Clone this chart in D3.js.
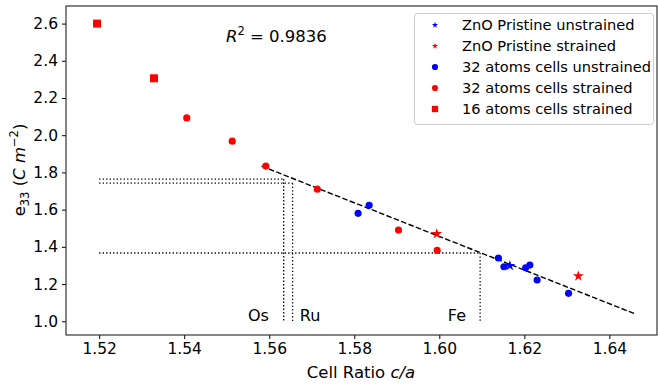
<!DOCTYPE html>
<html>
<head>
<meta charset="utf-8">
<script src="https://cdnjs.cloudflare.com/ajax/libs/d3/7.8.5/d3.min.js"></script>
<style>
  body { margin: 0; background: #fff; }
  text { font-family: "DejaVu Sans", sans-serif; fill: #000; }
</style>
</head>
<body>
<div id="chart"></div>
<script>
// data
const pristineUnstrained = [{x: 1.6166, y: 1.299}];
const pristineStrained = [{x: 1.5994, y: 1.470}, {x: 1.6327, y: 1.243}];
const cells32Unstrained = [
  {x: 1.5809, y: 1.580}, {x: 1.5835, y: 1.623}, {x: 1.6139, y: 1.340},
  {x: 1.6152, y: 1.293}, {x: 1.6203, y: 1.287}, {x: 1.6213, y: 1.302},
  {x: 1.6230, y: 1.222}, {x: 1.6304, y: 1.150}
];
const cells32Strained = [
  {x: 1.5406, y: 2.093}, {x: 1.5513, y: 1.968}, {x: 1.5592, y: 1.834},
  {x: 1.5713, y: 1.710}, {x: 1.5904, y: 1.490}, {x: 1.5995, y: 1.381}
];
const cells16Strained = [{x: 1.5195, y: 2.600}, {x: 1.5329, y: 2.306}];

const fitLine = [{x: 1.5582, y: 1.834}, {x: 1.6459, y: 1.041}];

// metals: c/a and e33 guide lines
const metals = [
  {name: "Os", ca: 1.5634, e: 1.764, labelX: 1.5550},
  {name: "Ru", ca: 1.5655, e: 1.742, labelX: 1.5672},
  {name: "Fe", ca: 1.6096, e: 1.367, labelX: 1.6020}
];

const xTicks = [1.52, 1.54, 1.56, 1.58, 1.60, 1.62, 1.64];
const yTicks = [1.0, 1.2, 1.4, 1.6, 1.8, 2.0, 2.2, 2.4, 2.6];

const legendItems = [
  {label: "ZnO Pristine unstrained", color: "#0000ff", shape: "star"},
  {label: "ZnO Pristine strained", color: "#ff0000", shape: "star"},
  {label: "32 atoms cells unstrained", color: "#0000ff", shape: "circle"},
  {label: "32 atoms cells strained", color: "#ff0000", shape: "circle"},
  {label: "16 atoms cells strained", color: "#ff0000", shape: "square"}
];

const W = 658, H = 386;
const plot = {left: 66, top: 6, right: 657, bottom: 335};

const svg = d3.select("#chart").append("svg")
  .attr("width", W).attr("height", H);

const x = d3.scaleLinear().domain([1.5122, 1.6512]).range([plot.left, plot.right]);
const y = d3.scaleLinear().domain([0.9262, 2.6945]).range([plot.bottom, plot.top]);

// axes
const xAxis = svg.append("g")
  .attr("transform", "translate(0," + plot.bottom + ")")
  .call(d3.axisBottom(x).tickValues(xTicks).tickFormat(d3.format(".2f")).tickSizeOuter(0).tickSize(4).tickPadding(4));
const yAxis = svg.append("g")
  .attr("transform", "translate(" + plot.left + ",0)")
  .call(d3.axisLeft(y).tickValues(yTicks).tickFormat(d3.format(".1f")).tickSizeOuter(0).tickSize(4).tickPadding(4));
[xAxis, yAxis].forEach(a => {
  a.select(".domain").remove();
  a.selectAll("line").attr("stroke", "#000").attr("stroke-width", 1);
  a.selectAll("text").style("font-size", "15.5px").attr("fill", "#000");
});

// frame
svg.append("rect")
  .attr("x", plot.left).attr("y", plot.top)
  .attr("width", plot.right - plot.left).attr("height", plot.bottom - plot.top)
  .attr("fill", "none").attr("stroke", "#222").attr("stroke-width", 1.1);

// guide lines
const g = svg.append("g");
metals.forEach(m => {
  g.append("line")
    .attr("x1", x(1.52)).attr("x2", x(m.ca))
    .attr("y1", y(m.e)).attr("y2", y(m.e))
    .attr("stroke", "#000").attr("stroke-width", 1.3).attr("stroke-dasharray", "1.3,2.2");
  g.append("line")
    .attr("x1", x(m.ca)).attr("x2", x(m.ca))
    .attr("y1", y(m.e)).attr("y2", y(1.0))
    .attr("stroke", "#000").attr("stroke-width", 1.3).attr("stroke-dasharray", "1.3,2.2");
  g.append("text")
    .attr("x", x(m.labelX)).attr("y", y(1.0))
    .style("font-size", "16px")
    .text(m.name);
});

// fit line
const line = d3.line().x(d => x(d.x)).y(d => y(d.y));
g.append("path")
  .datum(fitLine)
  .attr("d", line)
  .attr("fill", "none")
  .attr("stroke", "#000")
  .attr("stroke-width", 1.4)
  .attr("stroke-dasharray", "5.5,2.4");

// markers
const symbols = {
  star: d3.symbol().type(d3.symbolStar),
  circle: d3.symbol().type(d3.symbolCircle),
  square: d3.symbol().type(d3.symbolSquare)
};
function drawSeries(data, shape, color, size) {
  g.append("g").selectAll("path")
    .data(data)
    .enter()
    .append("path")
    .attr("transform", d => "translate(" + x(d.x) + "," + y(d.y) + ")")
    .attr("d", symbols[shape].size(size)())
    .attr("fill", color);
}
drawSeries(cells16Strained, "square", "#ff0000", 64);
drawSeries(cells32Strained, "circle", "#ff0000", 40);
drawSeries(cells32Unstrained, "circle", "#0000ff", 40);
drawSeries(pristineStrained, "star", "#ff0000", 36);
drawSeries(pristineUnstrained, "star", "#0000ff", 36);

// R^2 annotation
const r2 = svg.append("text").attr("x", 226).attr("y", 42).style("font-size", "16.5px");
r2.append("tspan").style("font-style", "italic").text("R");
r2.append("tspan").attr("dy", -7).style("font-size", "11.5px").text("2");
r2.append("tspan").attr("dy", 7).text(" = 0.9836");

// axis labels
const xl = svg.append("text")
  .attr("x", 361).attr("y", 378)
  .attr("text-anchor", "middle")
  .style("font-size", "16.5px");
xl.append("tspan").text("Cell Ratio ");
xl.append("tspan").style("font-style", "italic").text("c/a");

const yl = svg.append("text")
  .attr("transform", "translate(25,170) rotate(-90)")
  .attr("text-anchor", "middle")
  .style("font-size", "16.5px");
yl.append("tspan").text("e");
yl.append("tspan").attr("dy", 4).style("font-size", "11.5px").text("33");
yl.append("tspan").attr("dy", -4).text(" (");
yl.append("tspan").style("font-style", "italic").text("C m");
yl.append("tspan").attr("dy", -7).style("font-size", "11.5px").text("\u22122");
yl.append("tspan").attr("dy", 7).text(")");

// legend
const lg = svg.append("g");
lg.append("rect")
  .attr("x", 414.5).attr("y", 13.5).attr("width", 239).attr("height", 111)
  .attr("rx", 3)
  .attr("fill", "#fff").attr("stroke", "#ccc").attr("stroke-width", 1);
const legendSize = {star: 12, circle: 30, square: 40};
legendItems.forEach((it, i) => {
  const yy = 25 + i * 21;
  lg.append("path")
    .attr("transform", "translate(435," + yy + ")")
    .attr("d", symbols[it.shape].size(legendSize[it.shape])())
    .attr("fill", it.color);
  lg.append("text")
    .attr("x", 462).attr("y", yy + 5)
    .style("font-size", "14.6px")
    .text(it.label);
});
</script>
</body>
</html>
